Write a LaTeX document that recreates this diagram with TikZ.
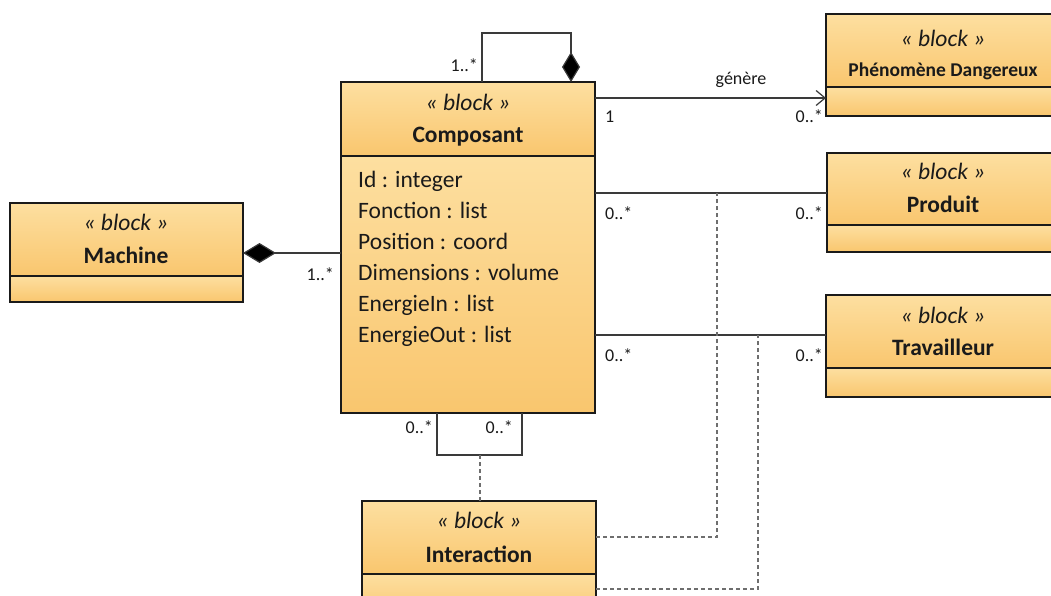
\documentclass[tikz,border=0pt]{standalone}
\usepackage{fontspec}
\setmainfont{Carlito}
\usetikzlibrary{arrows.meta,fit}
\definecolor{ctop}{HTML}{FDDFA0}
\definecolor{cbot}{HTML}{F9C66E}
\definecolor{ink}{HTML}{1A1A1A}
\definecolor{wirecol}{HTML}{3A3A3A}
\definecolor{dashcol}{HTML}{6E6E6E}
\tikzset{
  blockbox/.style={draw=ink, line width=1.8pt, inner sep=0pt, outer sep=0pt},
  divline/.style={draw=ink, line width=1.8pt},
  stereo/.style={anchor=base, text=ink, inner sep=0pt, font=\itshape\fontsize{23.5}{28}\selectfont},
  bname/.style={anchor=base, text=ink, inner sep=0pt, font=\bfseries\fontsize{23.5}{28}\selectfont},
  attr/.style={anchor=base west, text=ink, inner sep=0pt, font=\fontsize{23.5}{28}\selectfont},
  mult/.style={text=ink, inner sep=0pt, font=\fontsize{18}{22}\selectfont},
  wire/.style={draw=wirecol, line width=1.2pt},
  dashline/.style={draw=dashcol, line width=1.2pt, dash pattern=on 4pt off 3pt},
}
\newcommand\compart[4]{\shade[top color=ctop,bottom color=cbot] (#1,#2) rectangle (#3,#4);}
\newcommand\mkblock[6]{%
  \compart{#2}{#3}{#4}{#5}
  \compart{#2}{#5}{#4}{#6}
  \node[blockbox, fit={(#2,#3) (#4,#6)}] (#1) {};
  \draw[divline] (#2,#5) -- (#4,#5);
}
\begin{document}
\begin{tikzpicture}[x=1pt,y=-1pt]
\useasboundingbox (0,0) rectangle (1051,596);
\clip (0,0) rectangle (1051,596);
\fill[white] (0,0) rectangle (1051,596);

% blocks
\mkblock{comp}{341}{82}{595}{156}{413}
\mkblock{mach}{10}{203}{243}{276}{302}
\mkblock{phen}{826}{14}{1060}{87}{116}
\mkblock{prod}{827}{153}{1060}{225}{252}
\mkblock{trav}{826}{295}{1060}{368}{397}
\mkblock{inter}{362}{501}{596}{574}{620}

% block texts
\node[stereo] (compS) at (468,111) {« block »};
\node[bname] (compN) at (468,143) {Composant};
\node[stereo] (machS) at (126,230) {« block »};
\node[bname] (machN) at (126,263) {Machine};
\node[stereo] (phenS) at (943,47) {« block »};
\node[bname, font=\bfseries\fontsize{19.5}{24}\selectfont] (phenN) at (943,77) {Phénomène Dangereux};
\node[stereo] (prodS) at (943,179) {« block »};
\node[bname] (prodN) at (943,212) {Produit};
\node[stereo] (travS) at (943,323) {« block »};
\node[bname] (travN) at (943,355) {Travailleur};
\node[stereo] (interS) at (479,528) {« block »};
\node[bname] (interN) at (479,562) {Interaction};

% attributes
\node[attr] (a1) at (358,187) {Id : integer};
\node[attr] (a2) at (358,218.5) {Fonction : list};
\node[attr] (a3) at (358,249.5) {Position : coord};
\node[attr] (a4) at (358,280.5) {Dimensions : volume};
\node[attr] (a5) at (358,311.5) {EnergieIn : list};
\node[attr] (a6) at (358,342.5) {EnergieOut : list};

% helper coordinates
\coordinate (xa) at (482,0);
\coordinate (xb) at (571,0);
\coordinate (ym) at (0,253);
\coordinate (yg) at (0,98);
\coordinate (yp) at (0,193);
\coordinate (yt) at (0,335);
\coordinate (xc) at (437,0);
\coordinate (xd) at (522,0);
\coordinate (loopb) at (480,455);
\coordinate (pj) at (717,193);
\coordinate (tj) at (758,335);
\coordinate (d1) at (0,537);
\coordinate (d2) at (0,589);

% self composition (top)
\draw[wire, {Diamond[length=30pt,width=18pt,fill=black]}-] (comp.north -| xb) -- ++(0,-49) -| (comp.north -| xa);
\node[mult, anchor=base east] (m1) at (478,72) {1..*};

% machine composition
\draw[wire, {Diamond[length=33pt,width=20pt,fill=black]}-] (mach.east |- ym) -- (comp.west |- ym);
\node[mult, anchor=base east] (m2) at (334,280) {1..*};

% genere
\draw[wire, -{Straight Barb[length=9pt,width=15pt,line width=1.2pt]}] (comp.east |- yg) -- (phen.west |- yg);
\node[mult, anchor=base] (gen) at (741,85) {génère};
\node[mult, anchor=base west] (m3) at (605,123) {1};
\node[mult, anchor=base east] (m4) at (823,123) {0..*};

% produit
\draw[wire] (comp.east |- yp) -- (prod.west |- yp);
\node[mult, anchor=base west] (m5) at (605,219) {0..*};
\node[mult, anchor=base east] (m6) at (823,219) {0..*};

% travailleur
\draw[wire] (comp.east |- yt) -- (trav.west |- yt);
\node[mult, anchor=base west] (m7) at (605,361) {0..*};
\node[mult, anchor=base east] (m8) at (823,361) {0..*};

% bottom self association
\draw[wire] (comp.south -| xc) |- (loopb) -| (comp.south -| xd);
\node[mult, anchor=base east] (m9) at (433,433) {0..*};
\node[mult, anchor=base east] (m10) at (513,433) {0..*};

% association classes (dashed)
\draw[dashline] (loopb) -- (inter.north -| loopb);
\draw[dashline] (inter.east |- d1) -| (pj);
\draw[dashline] (inter.east |- d2) -| (tj);
\end{tikzpicture}
\end{document}
